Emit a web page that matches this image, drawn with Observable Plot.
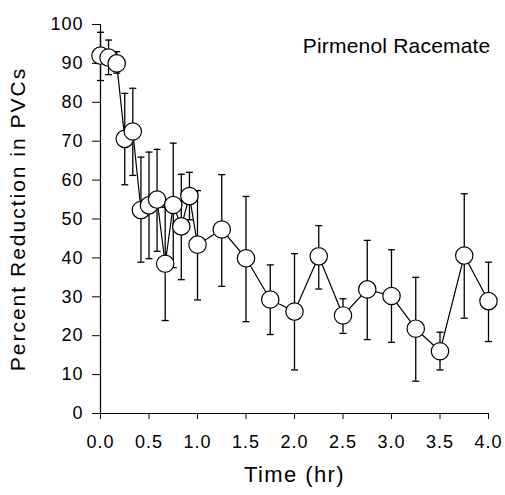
<!DOCTYPE html>
<html>
<head>
<meta charset="utf-8">
<script src="https://cdn.jsdelivr.net/npm/d3@7"></script>
<script src="https://cdn.jsdelivr.net/npm/@observablehq/plot@0.6"></script>
<style>
  html, body { margin: 0; padding: 0; background: #fff; }
  svg text { font-family: 'Liberation Sans', Arial, sans-serif; fill: #000; }
  g[aria-label="y-axis tick label"] text { font-size: 18px; letter-spacing: 1px; }
  g[aria-label="x-axis tick label"] text { font-size: 18px; letter-spacing: 1px; }
  g[aria-label="y-axis label"] text { font-size: 21px; letter-spacing: 2px; }
  g[aria-label="x-axis label"] text { font-size: 22px; letter-spacing: 1.4px; }
  g[aria-label="text"] text { font-size: 21px; letter-spacing: 0.2px; }
</style>
</head>
<body>
<div id="chart"></div>
<script>
const times = [0, 0.083, 0.167, 0.25, 0.333, 0.417, 0.5, 0.583, 0.667, 0.75, 0.833, 0.917, 1.0, 1.25, 1.5, 1.75, 2.0, 2.25, 2.5, 2.75, 3.0, 3.25, 3.5, 3.75, 4.0];
const means = [92, 91.5, 90, 70.6, 72.5, 52.3, 53.5, 55, 38.5, 53.6, 48.1, 55.9, 43.4, 47.3, 39.9, 29.3, 26.2, 40.4, 25.2, 31.9, 30.2, 21.8, 16, 40.6, 28.9];
const upper = [98, 96, 93, 82.3, 83.6, 65.9, 67.2, 67.9, 53, 69.5, 61.5, 62, 57.3, 61.4, 55.8, 38.2, 41.1, 48.3, 29.5, 44.5, 42.1, 35, 20.9, 56.5, 38.9];
const lower = [85.6, 87.1, 87.5, 58.8, 61.2, 38.9, 39.8, 41.7, 23.9, 37.5, 34.4, 49.8, 29.2, 32.7, 23.6, 20.3, 11.2, 32, 20.6, 19, 18.3, 8.3, 11.2, 24.5, 18.5];
const xTicks = [0, 0.5, 1, 1.5, 2, 2.5, 3, 3.5, 4];
const yTicks = [0, 10, 20, 30, 40, 50, 60, 70, 80, 90, 100];
const annotation = ["Pirmenol Racemate"];

const data = times.map((t, i) => ({t, m: means[i], hi: upper[i], lo: lower[i]}));

const capSymbol = {
  draw(context, size) {
    context.moveTo(-3.5, 0);
    context.lineTo(3.5, 0);
  }
};

const chart = Plot.plot({
  width: 505,
  height: 495,
  marginLeft: 100,
  marginRight: 17,
  marginTop: 24,
  marginBottom: 82,
  style: {fontFamily: "'Liberation Sans', Arial, sans-serif", background: "#fff", color: "#000"},
  x: {domain: [0, 4]},
  y: {domain: [0, 100]},
  marks: [
    Plot.axisY({ticks: yTicks, tickSize: 8, tickPadding: 9, tickFormat: d => String(d),
      label: "Percent Reduction in PVCs", labelAnchor: "center", labelArrow: "none", labelOffset: 90}),
    Plot.axisX({ticks: xTicks, tickSize: 6, tickPadding: 16, tickFormat: d => d.toFixed(1),
      label: "Time (hr)", labelAnchor: "center", labelArrow: "none", labelOffset: 68}),
    Plot.ruleX([0], {stroke: "#000", strokeWidth: 1.2}),
    Plot.ruleY([0], {stroke: "#000", strokeWidth: 1.2}),
    Plot.ruleX(data, {x: "t", y1: "lo", y2: "hi", stroke: "#000", strokeWidth: 1.3}),
    Plot.dot(data, {x: "t", y: "hi", symbol: capSymbol, stroke: "#000", strokeWidth: 1.3}),
    Plot.dot(data, {x: "t", y: "lo", symbol: capSymbol, stroke: "#000", strokeWidth: 1.3}),
    Plot.line(data, {x: "t", y: "m", stroke: "#000", strokeWidth: 1.2}),
    Plot.dot(data, {x: "t", y: "m", r: 8.7, fill: "#fff", stroke: "#000", strokeWidth: 1.2}),
    Plot.text(annotation, {frameAnchor: "top-right", text: d => d, dx: 2, dy: 28, lineAnchor: "bottom", textAnchor: "end"})
  ]
});
document.getElementById("chart").appendChild(chart);
</script>
</body>
</html>
